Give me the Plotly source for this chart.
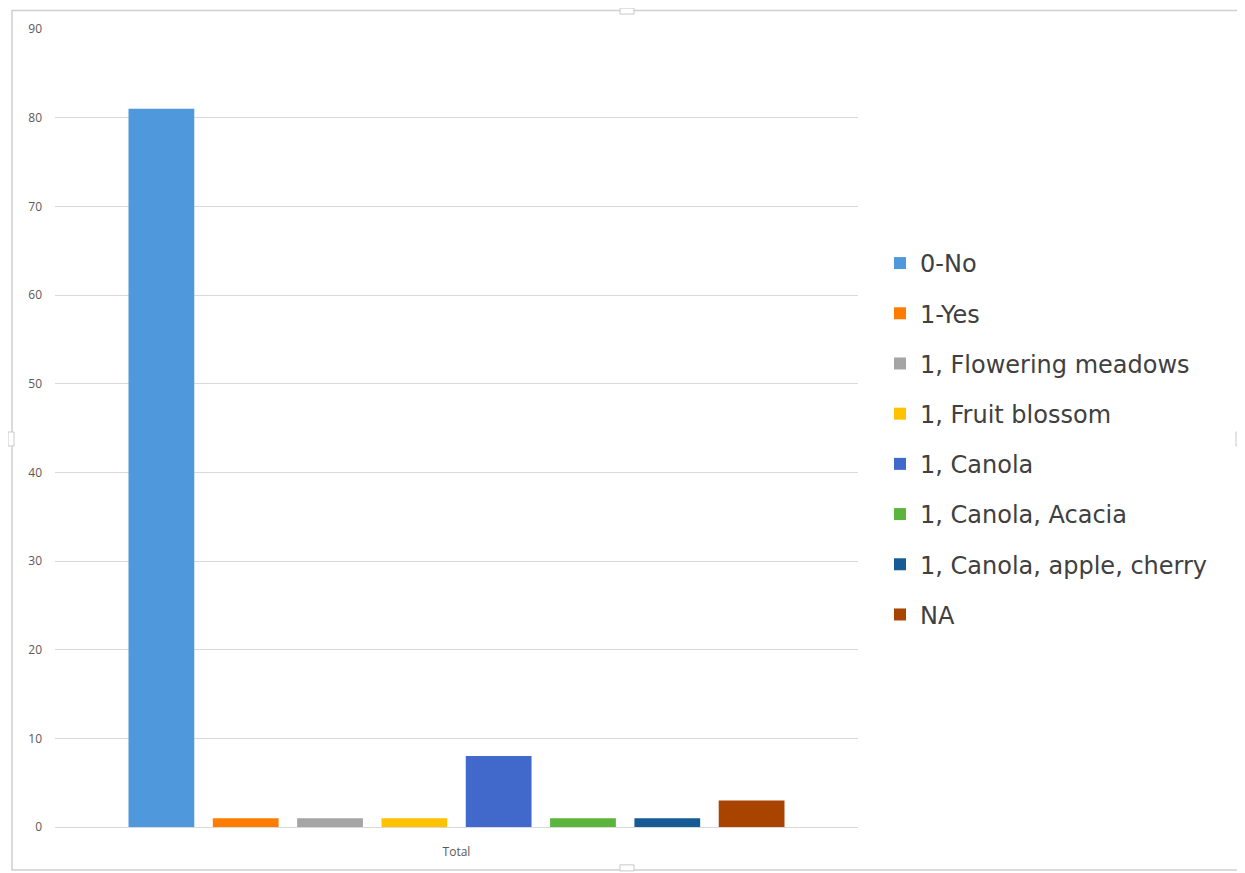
import plotly.graph_objects as go

categories = ["Total"]
series_names = ["0-No", "1-Yes", "1, Flowering meadows", "1, Fruit blossom",
                "1, Canola", "1, Canola, Acacia", "1, Canola, apple, cherry", "NA"]
series_values = [81, 1, 1, 1, 8, 1, 1, 3]
series_colors = ["#4E98DB", "#FF7C00", "#A5A5A5", "#FFC200",
                 "#4169CC", "#5BB43C", "#165B96", "#A84300"]
y_ticks = [0, 10, 20, 30, 40, 50, 60, 70, 80, 90]

OFF = 8  # page body margin
W, H = 1245 - OFF, 873 - OFF
L, R, T, B = 55 - OFF, 387, 27 - OFF, 46
pw, ph = W - L - R, H - T - B

def px_x(p):
    return (p - OFF - L) / pw

def px_y(p):
    return (H - B - (p - OFF)) / ph

fig = go.Figure()
for name, val, col in zip(series_names, series_values, series_colors):
    fig.add_trace(go.Bar(x=categories, y=[val], name=name, marker_color=col,
                         marker_line_width=0, legendgroup=name))

shapes = [
    dict(type="rect", xref="paper", yref="paper",
         x0=px_x(12), x1=px_x(1240), y0=px_y(870), y1=px_y(8.5),
         line=dict(color="#D0D0D0", width=1.5), fillcolor="rgba(0,0,0,0)", layer="below"),
]
for (cx, cy, w, h) in [(627, 9, 14, 6), (627, 868, 14, 6), (11, 438, 6, 14), (1239, 438, 6, 14)]:
    shapes.append(dict(type="rect", xref="paper", yref="paper",
                       x0=px_x(cx - w / 2), x1=px_x(cx + w / 2),
                       y0=px_y(cy + h / 2), y1=px_y(cy - h / 2),
                       line=dict(color="#C8C8C8", width=1), fillcolor="white"))

fig.update_layout(
    width=W, height=H,
    margin=dict(l=L, r=R, t=T, b=B, pad=0),
    paper_bgcolor="white", plot_bgcolor="white",
    barmode="group", bargap=0.16, bargroupgap=0.22,
    font=dict(family="Open Sans, Liberation Sans, sans-serif", color="#595959"),
    showlegend=True,
    legend=dict(x=px_x(880), xanchor="left", y=px_y(438), yanchor="middle",
                font=dict(family="DejaVu Sans, sans-serif", size=24, color="#404040"),
                tracegroupgap=16, itemsizing="constant", bgcolor="rgba(0,0,0,0)"),
    xaxis=dict(showgrid=False, showline=True, linecolor="#D9D9D9", linewidth=1,
               tickfont=dict(size=12, color="#595959"), ticks="", ticklabelstandoff=14),
    yaxis=dict(range=[0, 90], tickvals=y_ticks, showgrid=True, gridcolor="#D9D9D9",
               gridwidth=1, zeroline=False, showline=False,
               tickfont=dict(size=12, color="#595959"), ticklabelstandoff=12),
    shapes=shapes,
)

fig.write_html("out.html")
